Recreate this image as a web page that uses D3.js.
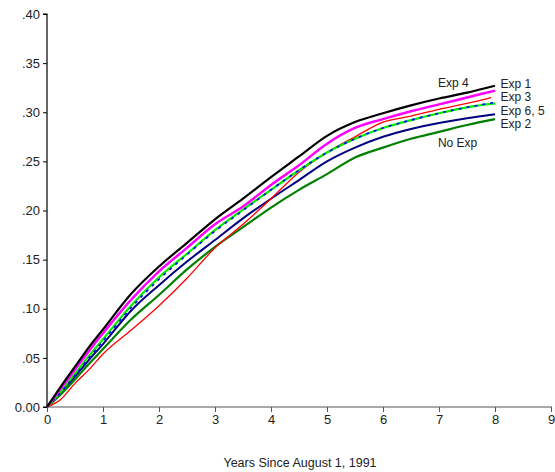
<!DOCTYPE html>
<html>
<head>
<meta charset="utf-8">
<script src="https://cdn.jsdelivr.net/npm/d3@7"></script>
<style>
  body { margin: 0; background: #fff; }
  svg { display: block; }
  text { font-family: "Liberation Sans", Arial, sans-serif; fill: #222; }
</style>
</head>
<body>
<svg id="chart" width="555" height="472"></svg>
<script>
// ---- data ----
const years = [0, 0.25, 0.5, 0.75, 1, 1.5, 2, 2.5, 3, 3.5, 4, 4.5, 5, 5.5, 6, 6.5, 7, 7.5, 8];
const redYears = [0, 0.25, 0.5, 0.75, 1, 1.5, 2, 2.5, 3, 3.5, 4, 4.5, 5, 5.5, 6, 6.5, 7, 7.5, 7.93];
const blackVals   = [0, 0.021, 0.041, 0.061, 0.079, 0.115, 0.143, 0.167, 0.191, 0.212, 0.234, 0.255, 0.276, 0.290, 0.299, 0.307, 0.314, 0.320, 0.327];
const magentaVals = [0, 0.019, 0.038, 0.057, 0.075, 0.109, 0.138, 0.162, 0.186, 0.204, 0.226, 0.246, 0.268, 0.284, 0.293, 0.301, 0.308, 0.315, 0.322];
const redVals     = [0, 0.008, 0.024, 0.038, 0.054, 0.078, 0.103, 0.131, 0.162, 0.186, 0.212, 0.239, 0.259, 0.275, 0.290, 0.296, 0.303, 0.309, 0.315];
const greenVals   = [0, 0.016, 0.034, 0.052, 0.069, 0.103, 0.132, 0.156, 0.180, 0.201, 0.221, 0.241, 0.259, 0.273, 0.284, 0.292, 0.299, 0.305, 0.309];
const blueVals    = [0, 0.015, 0.032, 0.050, 0.067, 0.101, 0.130, 0.155, 0.179, 0.200, 0.221, 0.241, 0.259, 0.273, 0.284, 0.292, 0.299, 0.305, 0.310];
const navyVals    = [0, 0.015, 0.031, 0.048, 0.064, 0.098, 0.124, 0.148, 0.170, 0.192, 0.212, 0.231, 0.250, 0.264, 0.275, 0.283, 0.289, 0.294, 0.298];
const dkgreenVals = [0, 0.013, 0.028, 0.044, 0.059, 0.089, 0.114, 0.140, 0.163, 0.183, 0.203, 0.221, 0.237, 0.254, 0.264, 0.273, 0.280, 0.287, 0.293];

const xTicks = [0, 1, 2, 3, 4, 5, 6, 7, 8, 9];
const yTicks = [0, 0.05, 0.10, 0.15, 0.20, 0.25, 0.30, 0.35, 0.40];
const yTickLabels = ["0.00", ".05", ".10", ".15", ".20", ".25", ".30", ".35", ".40"];
const xTitle = "Years Since August 1, 1991";
const labelTexts = ["Exp 4", "Exp 1", "Exp 3", "Exp 6, 5", "Exp 2", "No Exp"];

// ---- drawing ----
const svg = d3.select("#chart");
const x = d3.scaleLinear().domain([0, 9]).range([47, 551]);
const y = d3.scaleLinear().domain([0, 0.40]).range([407, 14]);

const series = [
  { xs: years, vals: navyVals, color: "#000080", w: 2 },
  { xs: years, vals: dkgreenVals, color: "#008000", w: 2.2 },
  { xs: redYears, vals: redVals, color: "#ff0000", w: 1.3 },
  { xs: years, vals: greenVals, color: "#00ee00", w: 2.2 },
  { xs: years, vals: blueVals, color: "#0000ff", w: 1.6, dash: "3,5" },
  { xs: years, vals: magentaVals, color: "#ff00ff", w: 2.5 },
  { xs: years, vals: blackVals, color: "#000000", w: 2.2 }
];

const line = d3.line()
  .x(d => x(d[0]))
  .y(d => y(d[1]))
  .curve(d3.curveMonotoneX);

series.forEach(s => {
  svg.append("path")
    .datum(s.xs.map((t, i) => [t, s.vals[i]]))
    .attr("fill", "none")
    .attr("stroke", s.color)
    .attr("stroke-width", s.w)
    .attr("stroke-linejoin", "round")
    .attr("stroke-dasharray", s.dash || null)
    .attr("d", line);
});

// axes
const yAxis = d3.axisLeft(y).tickValues(yTicks)
  .tickFormat((d, i) => yTickLabels[i]).tickSize(4).tickPadding(3);
const gy = svg.append("g").attr("transform", "translate(47,0)").call(yAxis);
gy.select(".domain").attr("stroke", "#000").attr("stroke-width", 1.2).attr("d", "M-4,14H0V407H-4");
gy.selectAll(".tick line").attr("stroke", "#000");
gy.selectAll(".tick text").attr("font-size", 13).attr("font-family", "Liberation Sans, Arial, sans-serif").attr("fill", "#222");

const xAxis = d3.axisBottom(x).tickValues(xTicks).tickFormat(d3.format("d")).tickSize(5).tickPadding(3);
const gx = svg.append("g").attr("transform", "translate(0,407)").call(xAxis);
gx.select(".domain").attr("stroke", "#555").attr("stroke-width", 1.2).attr("d", "M47,0H552");
gx.selectAll(".tick line").attr("stroke", "#555");
gx.selectAll(".tick text").attr("font-size", 13).attr("font-family", "Liberation Sans, Arial, sans-serif").attr("fill", "#222");

svg.append("text")
  .attr("x", 300).attr("y", 467)
  .attr("text-anchor", "middle")
  .attr("font-size", 12.5)
  .text(xTitle);

// labels
const labelPos = [
  [6.98, 0.3255], [8.1, 0.325], [8.1, 0.311], [8.1, 0.2975], [8.1, 0.2835], [6.98, 0.265]
];
labelTexts.forEach((t, i) => {
  svg.append("text")
    .attr("x", x(labelPos[i][0]))
    .attr("y", y(labelPos[i][1]))
    .attr("font-size", 12)
    .text(t);
});
</script>
</body>
</html>
